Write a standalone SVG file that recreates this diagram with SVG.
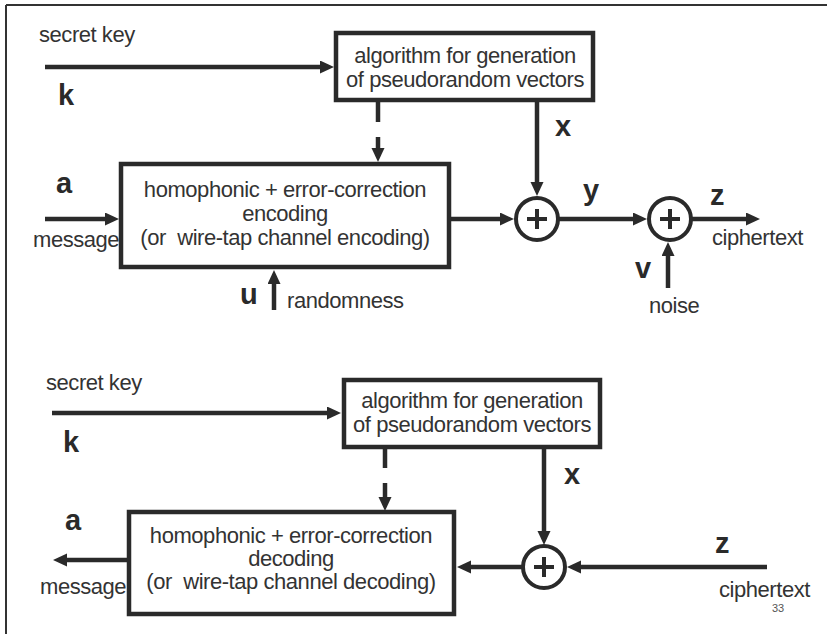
<svg xmlns="http://www.w3.org/2000/svg" width="827" height="634" viewBox="0 0 827 634">
<style>
.t{font-family:"Liberation Sans",Arial,sans-serif;font-size:22px;fill:#333;letter-spacing:-0.45px}
.c{text-anchor:middle}
.b{font-family:"Liberation Sans",Arial,sans-serif;font-size:29px;font-weight:bold;fill:#2a2a2a}
.box{fill:#fff;stroke:#2a2a2a;stroke-width:4.5}
.ln{stroke:#2a2a2a;stroke-width:4.5;fill:none}
.ar{stroke:#2a2a2a;stroke-width:4.5;fill:none;marker-end:url(#ah)}
.sum{fill:#fff;stroke:#2a2a2a;stroke-width:4}
.pl{stroke:#2a2a2a;stroke-width:4}
</style>
<defs>
<marker id="ah" markerUnits="userSpaceOnUse" markerWidth="15" markerHeight="14" refX="6" refY="6.5" orient="auto">
<path d="M0,0 L14,6.5 L0,13 z" fill="#2a2a2a"/>
</marker>
</defs>
<rect width="827" height="634" fill="#fff"/>
<g id="frame">
<line x1="6" y1="5" x2="827" y2="5" stroke="#333" stroke-width="2"/>
<line x1="6" y1="5" x2="6" y2="634" stroke="#333" stroke-width="2"/>
</g>

<g id="connectors">
<line class="ar" x1="45" y1="67" x2="326" y2="67"/>
<line class="ln" x1="378" y1="102" x2="378" y2="122"/>
<line class="ar" x1="378" y1="137" x2="378" y2="154"/>
<line class="ar" x1="537" y1="102" x2="537" y2="188"/>
<line class="ar" x1="45" y1="219" x2="111" y2="219"/>
<line class="ar" x1="450" y1="219" x2="506" y2="219"/>
<line class="ar" x1="559" y1="219" x2="639" y2="219"/>
<line class="ar" x1="692" y1="219" x2="752" y2="219"/>
<line class="ar" x1="274" y1="310" x2="274" y2="278"/>
<line class="ar" x1="668" y1="288" x2="668" y2="250"/>
<line class="ar" x1="52" y1="413" x2="333" y2="413"/>
<line class="ln" x1="385" y1="449" x2="385" y2="468"/>
<line class="ar" x1="385" y1="483" x2="385" y2="503"/>
<line class="ar" x1="544" y1="449" x2="544" y2="537"/>
<line class="ar" x1="127" y1="560" x2="61" y2="560"/>
<line class="ar" x1="522" y1="567" x2="465" y2="567"/>
<line class="ar" x1="767" y1="567" x2="575" y2="567"/>
</g>

<g id="gen1">
<rect class="box" x="336" y="33" width="257" height="67"/>
<text class="t c" x="465" y="63">algorithm for generation</text>
<text class="t c" x="465" y="87">of pseudorandom vectors</text>
</g>
<g id="enc">
<rect class="box" x="121" y="164" width="328" height="103"/>
<text class="t c" x="285" y="197">homophonic + error-correction</text>
<text class="t c" x="285" y="221">encoding</text>
<text class="t c" x="285" y="245" xml:space="preserve">(or  wire-tap channel encoding)</text>
</g>
<g id="sum1">
<circle class="sum" cx="537" cy="219" r="21"/>
<line class="pl" x1="527" y1="219" x2="547" y2="219"/>
<line class="pl" x1="537" y1="209" x2="537" y2="229"/>
</g>
<g id="sum2">
<circle class="sum" cx="670" cy="219" r="21"/>
<line class="pl" x1="660" y1="219" x2="680" y2="219"/>
<line class="pl" x1="670" y1="209" x2="670" y2="229"/>
</g>
<g id="labels1">
<text class="t" x="39" y="42">secret key</text>
<text class="b" x="58" y="105">k</text>
<text class="b" x="56" y="193">a</text>
<text class="t" x="33" y="247">message</text>
<text class="b" x="240" y="304">u</text>
<text class="t" x="287" y="308">randomness</text>
<text class="b" x="555" y="136">x</text>
<text class="b" x="583" y="200">y</text>
<text class="b" x="710" y="205">z</text>
<text class="t" x="712" y="245">ciphertext</text>
<text class="b" x="635" y="278">v</text>
<text class="t" x="649" y="313">noise</text>
</g>

<g id="gen2">
<rect class="box" x="344" y="380" width="256" height="67"/>
<text class="t c" x="472" y="408">algorithm for generation</text>
<text class="t c" x="472" y="432">of pseudorandom vectors</text>
</g>
<g id="dec">
<rect class="box" x="129" y="512" width="325" height="102"/>
<text class="t c" x="291" y="543">homophonic + error-correction</text>
<text class="t c" x="291" y="566">decoding</text>
<text class="t c" x="291" y="589" xml:space="preserve">(or  wire-tap channel decoding)</text>
</g>
<g id="sum3">
<circle class="sum" cx="544" cy="567" r="21"/>
<line class="pl" x1="534" y1="567" x2="554" y2="567"/>
<line class="pl" x1="544" y1="557" x2="544" y2="577"/>
</g>
<g id="labels2">
<text class="t" x="46" y="390">secret key</text>
<text class="b" x="63" y="452">k</text>
<text class="b" x="65" y="530">a</text>
<text class="t" x="40" y="594">message</text>
<text class="b" x="564" y="484">x</text>
<text class="b" x="715" y="553">z</text>
<text class="t" x="719" y="597">ciphertext</text>
<text x="772" y="612" font-family="Liberation Sans, Arial, sans-serif" font-size="11" fill="#555">33</text>
</g>
</svg>
